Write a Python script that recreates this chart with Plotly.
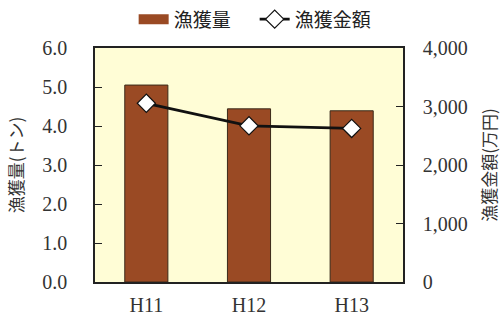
import plotly.graph_objects as go

categories = ["H11", "H12", "H13"]
catch_t = [5.05, 4.44, 4.39]
value_man_yen = [3055, 2670, 2625]
left_ticks = [0, 1, 2, 3, 4, 5, 6]
left_labels = ["0.0", "1.0", "2.0", "3.0", "4.0", "5.0", "6.0"]
right_ticks = [0, 1000, 2000, 3000, 4000]
right_labels = ["0", "1,000", "2,000", "3,000", "4,000"]

serif = "Liberation Serif"
cjk = "Noto Sans CJK JP"
bar_color = "#9A4A24"

fig = go.Figure()
# legend swatch for the bars (wide rectangle like the reference)
fig.add_trace(go.Scatter(
    x=[categories[0]], y=[None], name="漁獲量　", mode="lines",
    line=dict(color=bar_color, width=15), showlegend=True,
))
fig.add_trace(go.Bar(
    x=categories, y=catch_t, name="漁獲量", showlegend=False,
    marker=dict(color=bar_color, line=dict(color="#3a2a1a", width=1)),
    width=0.42, yaxis="y",
))
fig.add_trace(go.Scatter(
    x=categories, y=value_man_yen, name="漁獲金額", mode="lines+markers",
    line=dict(color="#111111", width=2.8),
    marker=dict(symbol="diamond", size=14, color="white", line=dict(color="#111111", width=1.2)),
    yaxis="y2",
))

fig.update_layout(
    width=501, height=322,
    margin=dict(l=95, r=98, t=48, b=40, autoexpand=False),
    paper_bgcolor="white",
    plot_bgcolor="#FFFDD6",
    showlegend=True,
    legend=dict(orientation="h", x=0.52, xanchor="center", y=0.94, yanchor="middle",
                yref="container", font=dict(family=cjk, size=19, color="#222"),
                itemwidth=30, traceorder="normal"),
    xaxis=dict(
        type="category", categoryorder="array", categoryarray=categories,
        tickfont=dict(family=serif, size=20, color="#333"),
        showline=True, linecolor="#222", linewidth=1.5, mirror=True,
        ticks="", showgrid=False, ticklabelstandoff=4, automargin=False,
    ),
    yaxis=dict(
        range=[0, 6], tickvals=left_ticks, ticktext=left_labels,
        tickfont=dict(family=serif, size=20, color="#333"),
        ticks="inside", ticklen=7, tickcolor="#222",
        showline=True, linecolor="#222", linewidth=1.5, automargin=False,
        showgrid=False, zeroline=False, ticklabelstandoff=22,
        title=dict(text="漁獲量(トン)", font=dict(family=cjk, size=17, color="#333"), standoff=14),
    ),
    yaxis2=dict(
        range=[0, 4000], tickvals=right_ticks, ticktext=right_labels,
        overlaying="y", side="right", automargin=False,
        tickfont=dict(family=serif, size=20, color="#333"),
        ticks="inside", ticklen=7, tickcolor="#222",
        showline=True, linecolor="#222", linewidth=1.5,
        showgrid=False, zeroline=False, ticklabelstandoff=14,
        title=dict(text="漁獲金額(万円)", font=dict(family=cjk, size=17, color="#333"), standoff=18),
    ),
)
fig.write_html("out.html")
